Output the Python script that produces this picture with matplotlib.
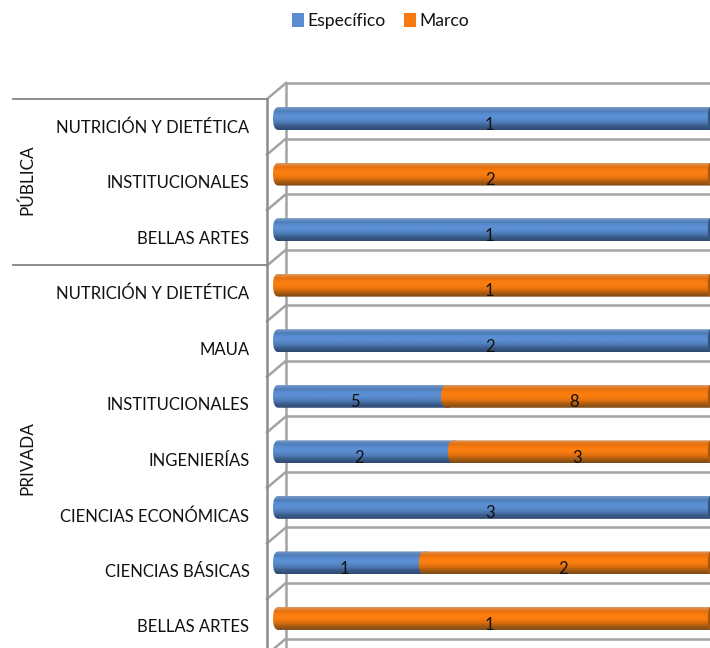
# -*- coding: utf-8 -*-
"""Stacked 100% bars with the old Excel 3D cylinder look"""
import numpy as np
from matplotlib import pyplot as plt
from matplotlib.colors import LinearSegmentedColormap
from matplotlib.patches import Ellipse, Patch, PathPatch
from matplotlib.path import Path
from matplotlib.transforms import ScaledTranslation

plt.rcParams['font.family'] = ['Lato', 'DejaVu Sans']

categories = ['NUTRICIÓN Y DIETÉTICA', 'INSTITUCIONALES', 'BELLAS ARTES',
              'NUTRICIÓN Y DIETÉTICA', 'MAUA', 'INSTITUCIONALES',
              'INGENIERÍAS', 'CIENCIAS ECONÓMICAS', 'CIENCIAS BÁSICAS',
              'BELLAS ARTES']
especifico = [1, 0, 1, 0, 2, 5, 2, 3, 1, 0]
marco = [0, 2, 0, 1, 0, 8, 3, 0, 2, 1]
series_names = ['Específico', 'Marco']

W, H = 710, 648
GRID = '#a3a3a3'
AXIS = '#8c8c8c'
TEXT = '#111111'
FS = 12.0

blue_cmap = LinearSegmentedColormap.from_list(
    'blue', ['#7b9cc8', '#4d7db8', '#5b8fd4', '#5b8ed2', '#4f7db9', '#3a5c8a',
             '#2f4a70'])
orange_cmap = LinearSegmentedColormap.from_list(
    'orange', ['#dc9a64', '#e66f0c', '#fb7d10', '#fb7d10', '#e0700f', '#a85a10',
               '#7a4a1c'])
CAP_BLUE = '#34557f'
CAP_ORANGE = '#a9590f'


def capsule(x0, x1, yc, half, rx):
    """Bar outline with a rounded left end, in data coords"""
    verts = [(x1, yc - half), (x0 + rx, yc - half), (x0, yc - half), (x0, yc),
             (x0, yc + half), (x0 + rx, yc + half), (x1, yc + half),
             (x1, yc - half)]
    codes = [Path.MOVETO, Path.LINETO, Path.CURVE3, Path.CURVE3, Path.CURVE3,
             Path.CURVE3, Path.LINETO, Path.CLOSEPOLY]
    return Path(verts, codes)


def draw_segment(ax, x0, x1, yc, cmap, half=0.207, rx=0.012):
    """One cylinder piece, a vertical gradient clipped to the bar outline"""
    grad = np.linspace(0, 1, 64).reshape(-1, 1)
    im = ax.imshow(grad, cmap=cmap, aspect='auto', zorder=3,
                   extent=[x0, x1, yc + half, yc - half],
                   interpolation='bilinear')
    clip = PathPatch(capsule(x0, x1, yc, half, rx), transform=ax.transData,
                     facecolor='none', edgecolor='none')
    ax.add_patch(clip)
    im.set_clip_path(clip)


fig = plt.figure(figsize=(W / 100, H / 100), dpi=100)

# chart furniture goes on a pixel overlay
bg = fig.add_axes([0, 0, 1, 1])
bg.set_xlim(0, W)
bg.set_ylim(H, 0)
bg.axis('off')
grid_top = 83
grid_step = 55.55
for i in range(len(categories) + 1):
    y = grid_top + i * grid_step
    bg.plot([286, W], [y, y], color=GRID, lw=1.8, zorder=1)
    bg.plot([267, 286], [y + 16, y], color=GRID, lw=1.8, zorder=1)
bg.plot([286, 286], [grid_top, H], color=GRID, lw=1.8, zorder=1)
bg.plot([267, 267], [99, H], color=AXIS, lw=1.8, zorder=2)
bg.plot([13, 267], [99, 99], color=AXIS, lw=1.4, zorder=2)
bg.plot([13, 267], [265, 265], color=AXIS, lw=1.4, zorder=2)
bg.text(27, 180, 'PÚBLICA', rotation=90, ha='center', va='center',
        fontsize=FS + 0.3, color=TEXT)
bg.text(27, 458, 'PRIVADA', rotation=90, ha='center', va='center',
        fontsize=FS + 0.3, color=TEXT)

# bars: axes runs 273..710 px wide and 90.75..648 px down
ax = fig.add_axes([273 / W, 0, (W - 273) / W, (H - 90.75) / H])
ax.patch.set_alpha(0)
for spine in ax.spines.values():
    spine.set_visible(False)

esp = np.array(especifico, dtype=float)
mar = np.array(marco, dtype=float)
total = esp + mar
ypos = np.arange(len(categories))
for i in ypos:
    share = esp[i] / total[i]
    if esp[i] > 0:
        # blue runs on under the orange's rounded end
        end = 1 if mar[i] == 0 else share + 0.02
        draw_segment(ax, 0, end, i, blue_cmap)
        ax.text(share / 2 - 0.004, i + 0.11, str(especifico[i]), ha='center',
                va='center', fontsize=FS, color=TEXT, zorder=6)
    if mar[i] > 0:
        draw_segment(ax, share, 1, i, orange_cmap)
        ax.text((share + 1) / 2 - 0.004, i + 0.11, str(marco[i]), ha='center',
                va='center', fontsize=FS, color=TEXT, zorder=6)
    cap = CAP_ORANGE if mar[i] > 0 else CAP_BLUE
    ax.add_patch(Ellipse((1.0, i), 0.01, 0.40, facecolor=cap,
                         edgecolor='none', zorder=4))

ax.set_xlim(0, 1)
ax.set_ylim((H - 118.5) / grid_step, -0.5)
ax.set_xticks([])
ax.set_yticks(ypos)
ax.set_yticklabels(categories, fontsize=FS, color=TEXT)
ax.tick_params(axis='y', length=0, pad=17)
# excel set these labels a bit below the bar centres
down = ScaledTranslation(0, -0.075, fig.dpi_scale_trans)
for label in ax.get_yticklabels():
    label.set_transform(label.get_transform() + down)

handles = [Patch(facecolor='#5b8ccf', label=series_names[0]),
           Patch(facecolor='#f97a10', label=series_names[1])]
leg = fig.legend(handles=handles, loc='upper left', ncol=2, frameon=False,
                 bbox_to_anchor=(280 / W, 1 - 1 / H), fontsize=12.6,
                 handlelength=0.69, handleheight=0.8, handletextpad=0.2,
                 columnspacing=1.0, borderpad=0.2, labelcolor=TEXT)

fig.savefig('out.png', dpi=100)
